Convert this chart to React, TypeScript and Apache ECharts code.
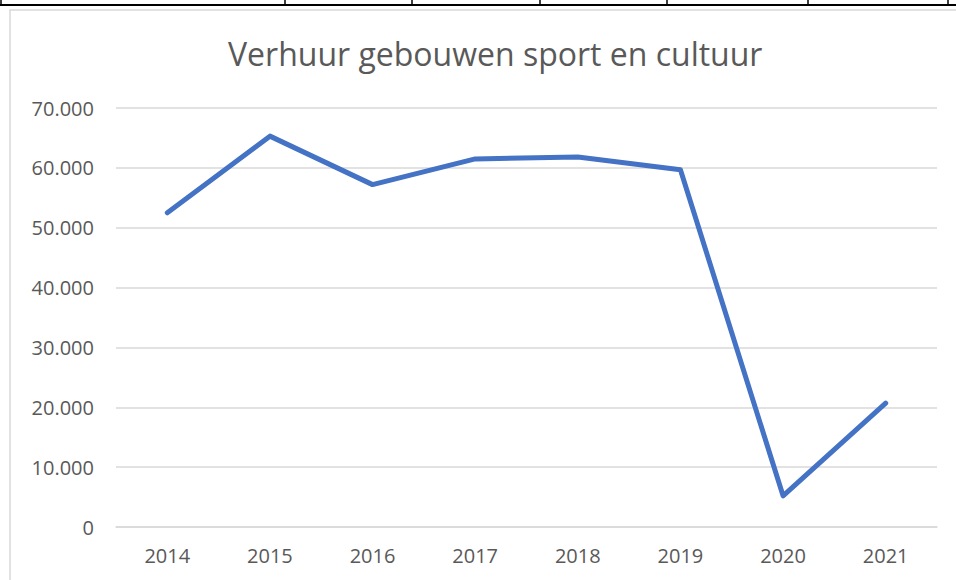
import React, { useEffect, useRef } from "react";
import * as echarts from "echarts";

const title = "Verhuur gebouwen sport en cultuur";
const years = ["2014", "2015", "2016", "2017", "2018", "2019", "2020", "2021"];
const rentals = [52500, 65300, 57200, 61500, 61800, 59700, 5200, 20700];
const tableColumnX = [285, 412, 540, 667, 808, 948];

function fmt(v: number): string {
  return String(Math.round(v)).replace(/\B(?=(\d{3})+(?!\d))/g, ".");
}

export default function App() {
  const ref = useRef<HTMLDivElement>(null);
  useEffect(() => {
    if (!ref.current) return;
    const chart = echarts.init(ref.current, undefined, { renderer: "svg" });
    const graphics: any[] = [
      { type: "rect", shape: { x: 10, y: 10, width: 960, height: 600 }, style: { fill: "#ffffff", stroke: "#d9d9d9", lineWidth: 1.5 }, z: -10 },
      { type: "line", shape: { x1: 0, y1: 5, x2: 956, y2: 5 }, style: { stroke: "#000", lineWidth: 2 } },
      { type: "line", shape: { x1: 1, y1: 0, x2: 1, y2: 5 }, style: { stroke: "#000", lineWidth: 1.5 } },
      ...tableColumnX.map((x) => ({ type: "line", shape: { x1: x, y1: 0, x2: x, y2: 5 }, style: { stroke: "#000", lineWidth: 1.5 } })),
    ];
    chart.setOption({
      animation: false,
      backgroundColor: "#ffffff",
      title: {
        text: title,
        left: 223,
        top: 32,
        textStyle: { fontFamily: "Open Sans", fontWeight: "normal", fontSize: 32, color: "#595959" },
      },
      graphic: graphics,
      grid: { left: 116, right: 19, top: 108, bottom: 53 },
      xAxis: {
        type: "category",
        data: years,
        boundaryGap: true,
        axisLine: { lineStyle: { color: "#d9d9d9", width: 1.5 } },
        axisTick: { show: false },
        axisLabel: { color: "#595959", fontSize: 20, fontFamily: "Open Sans", margin: 18 },
      },
      yAxis: {
        type: "value",
        min: 0,
        max: 70000,
        interval: 10000,
        axisLine: { show: false },
        axisTick: { show: false },
        splitLine: { lineStyle: { color: "#d9d9d9", width: 1.5 } },
        axisLabel: { color: "#595959", fontSize: 20, fontFamily: "Open Sans", margin: 22, formatter: (v: number) => fmt(v) },
      },
      series: [
        {
          type: "line",
          data: rentals,
          symbol: "none",
          lineStyle: { color: "#4472C4", width: 5, cap: "round", join: "round" },
        },
      ],
    });
    return () => chart.dispose();
  }, []);
  return <div ref={ref} style={{ position: "fixed", left: 0, top: 0, width: 956, height: 580 }} />;
}
